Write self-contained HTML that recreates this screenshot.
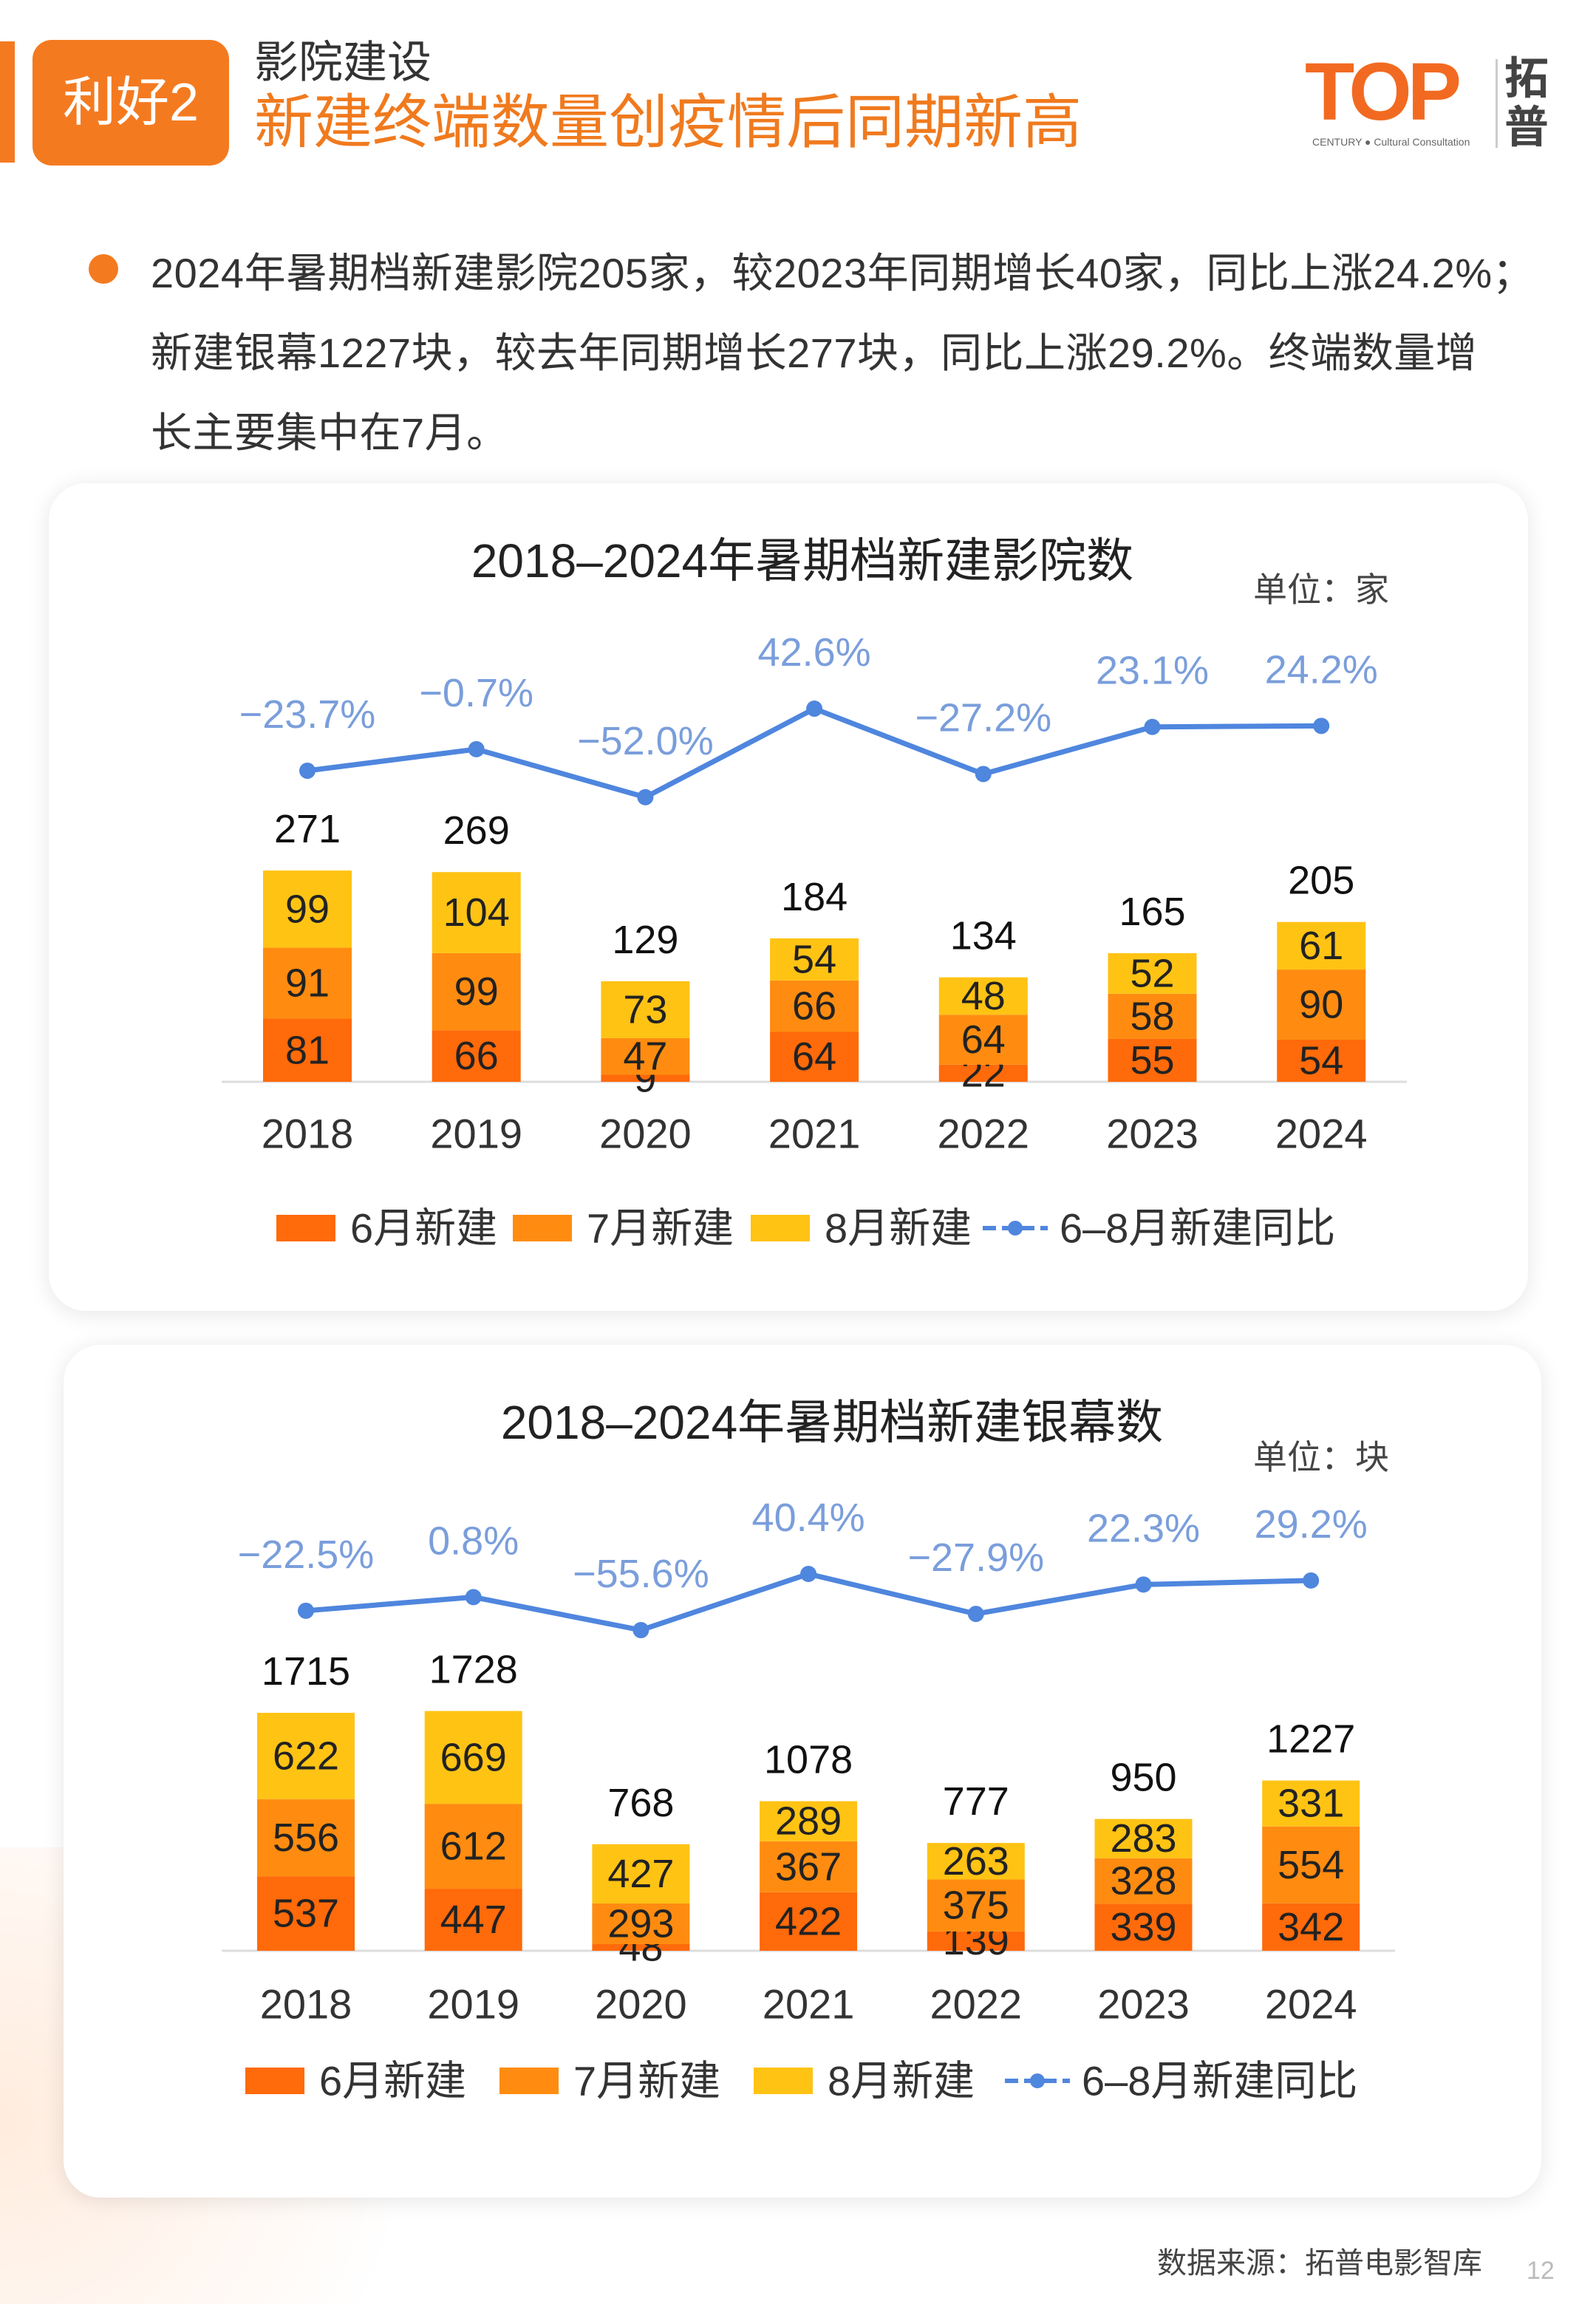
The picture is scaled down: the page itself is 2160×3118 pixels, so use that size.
<!DOCTYPE html>
<html><head><meta charset="utf-8">
<style>
html,body{margin:0;padding:0;background:#fff;}
body{width:2160px;height:3118px;position:relative;overflow:hidden;font-family:"Liberation Sans","Noto Sans CJK SC",sans-serif;}
.abs{position:absolute;}
</style></head>
<body>
<div class="abs" style="left:0;top:2500px;width:700px;height:618px;background:radial-gradient(circle at 0% 60%,rgba(255,200,160,0.35),rgba(255,255,255,0) 70%);"></div>
<div class="abs" style="left:0;top:56px;width:20px;height:164px;background:#F47A20;"></div>
<div class="abs" style="left:44px;top:54px;width:266px;height:170px;border-radius:26px;background:#F47A20;color:#fff;font-size:72px;line-height:170px;text-align:center;">利好2</div>
<div class="abs" style="left:344px;top:50px;font-size:60px;color:#333;line-height:70px;">影院建设</div>
<div class="abs" style="left:344px;top:120px;font-size:80px;color:#F07A1E;line-height:92px;">新建终端数量创疫情后同期新高</div>
<div class="abs" style="left:1766px;top:70px;font-size:110px;font-weight:bold;color:#F26A21;line-height:110px;letter-spacing:-6px;">TOP</div>
<div class="abs" style="left:1776px;top:184px;font-size:14px;color:#666;">CENTURY ● Cultural Consultation</div>
<div class="abs" style="left:2024px;top:80px;width:3px;height:120px;background:#ccc;"></div>
<div class="abs" style="left:2036px;top:74px;font-size:60px;font-weight:bold;color:#444;line-height:66px;width:64px;">拓<br>普</div>

<div class="abs" style="left:120px;top:344px;width:40px;height:40px;border-radius:50%;background:#F47A20;"></div>
<div class="abs" style="left:204px;top:316px;width:1920px;font-size:56px;letter-spacing:0.5px;line-height:108px;color:#333;white-space:nowrap;">2024年暑期档新建影院205家，较2023年同期增长40家，同比上涨24.2%；<br>新建银幕1227块，较去年同期增长277块，同比上涨29.2%。终端数量增<br>长主要集中在7月。</div>

<div class="abs" style="left:66px;top:654px;width:2002px;height:1120px;border-radius:50px;background:#fff;box-shadow:0 4px 30px rgba(0,0,0,0.10);"></div>
<div class="abs" style="left:86px;top:1820px;width:2000px;height:1154px;border-radius:50px;background:#fff;box-shadow:0 4px 30px rgba(0,0,0,0.10);"></div>

<svg id="svg" class="abs" style="left:0;top:0" width="2160" height="3118"></svg>

<div class="abs" style="left:1566px;top:3030px;font-size:40px;color:#444;">数据来源：拓普电影智库</div>
<div class="abs" style="left:2066px;top:3054px;font-size:34px;color:#bbb;">12</div>

<script>
const years = ["2018","2019","2020","2021","2022","2023","2024"];
const cinemaJune = [81,66,9,64,22,55,54];
const cinemaJuly = [91,99,47,66,64,58,90];
const cinemaAug = [99,104,73,54,48,52,61];
const cinemaTotal = [271,269,129,184,134,165,205];
const cinemaYoY = [-23.7,-0.7,-52.0,42.6,-27.2,23.1,24.2];
const screenJune = [537,447,48,422,139,339,342];
const screenJuly = [556,612,293,367,375,328,554];
const screenAug = [622,669,427,289,263,283,331];
const screenTotal = [1715,1728,768,1078,777,950,1227];
const screenYoY = [-22.5,0.8,-55.6,40.4,-27.9,22.3,29.2];

const NS = "http://www.w3.org/2000/svg";
const svg = document.getElementById('svg');
function mk(tag, attrs, text){
  const e = document.createElementNS(NS, tag);
  for (const k in attrs) e.setAttribute(k, attrs[k]);
  if (text !== undefined) e.textContent = text;
  svg.appendChild(e);
  return e;
}
const COLS = ["#FF6A0A","#FF8C10","#FFC314"];
const FONT = '"Liberation Sans","Noto Sans CJK SC",sans-serif';

function drawChart(c){
  const xOf = i => c.x0 + i*c.dx;
  const yBar = v => c.base - v*c.k;
  const yLine = v => c.zero - v*c.lk;
  let t = mk('text',{x:c.titleX,y:c.titleY,'font-size':64,'text-anchor':'middle','dominant-baseline':'middle',fill:'#222','font-family':FONT},c.title);
   
  t = mk('text',{x:1880,y:c.unitY,'font-size':46,'text-anchor':'end','dominant-baseline':'middle',fill:'#444','font-family':FONT},c.unit);
   
  let ax = mk('line',{x1:300,x2:c.axEnd,y1:c.base,y2:c.base,stroke:'#ddd','stroke-width':3});
   
  const series = [c.june,c.july,c.aug];
  years.forEach((yr,i)=>{
    let acc = 0;
    series.forEach((s,j)=>{
      const y1 = yBar(acc), y2 = yBar(acc+s[i]);
      const r = mk('rect',{x:xOf(i)-c.bw/2,y:y2,width:c.bw,height:y1-y2,fill:COLS[j]});
      
      
      const l = mk('text',{x:xOf(i),y:(y1+y2)/2,'font-size':54,'text-anchor':'middle','dominant-baseline':'central',fill:'#222','font-family':FONT},String(s[i]));
      
      
      acc += s[i];
    });
    const tl = mk('text',{x:xOf(i),y:yBar(c.total[i])-56,'font-size':54,'text-anchor':'middle','dominant-baseline':'central',fill:'#111','font-family':FONT},String(c.total[i]));
    
    
    const yl = mk('text',{x:xOf(i),y:c.yearY,'font-size':56,'text-anchor':'middle','dominant-baseline':'central',fill:'#333','font-family':FONT},yr);
    
    
  });
  const pts = c.yoy.map((v,i)=>xOf(i)+','+yLine(v)).join(' ');
  const pl = mk('polyline',{points:pts,fill:'none',stroke:'#4F86DE','stroke-width':7});
   
  c.yoy.forEach((v,i)=>{
    const d = mk('circle',{cx:xOf(i),cy:yLine(v),r:11,fill:'#4F86DE'});
     
    const s = (v<0?'−':'')+Math.abs(v).toFixed(1)+'%';
    const l = mk('text',{x:xOf(i),y:yLine(v)-76,'font-size':54,'text-anchor':'middle','dominant-baseline':'central',fill:'#7A9EDB','font-family':FONT},s);
     
  });
  const names = ["6月新建","7月新建","8月新建"];
  c.leg.forEach((lx,j)=>{
    if (j<3){
      const r = mk('rect',{x:lx,y:c.legY-18,width:80,height:36,fill:COLS[j]});
       
      const t2 = mk('text',{x:lx+100,y:c.legY,'font-size':56,'dominant-baseline':'central',fill:'#333','font-family':FONT},names[j]);
       
    } else {
      const ln = mk('line',{x1:lx,x2:lx+88,y1:c.legY,y2:c.legY,stroke:'#4F86DE','stroke-width':6,'stroke-dasharray':'18 8'});
       
      const dc = mk('circle',{cx:lx+44,cy:c.legY,r:10,fill:'#4F86DE'});
       
      const t2 = mk('text',{x:lx+104,y:c.legY,'font-size':56,'dominant-baseline':'central',fill:'#333','font-family':FONT},"6–8月新建同比");
       
    }
  });
}

drawChart({id:'cinema',title:'2018–2024年暑期档新建影院数',titleX:1086,titleY:764,unit:'单位：家',unitY:802,
  x0:416,dx:228.7,bw:120,base:1464,k:1.055,zero:1013,lk:1.267,yearY:1534,axEnd:1904,legY:1662,leg:[374,694,1016,1330],
  june:cinemaJune,july:cinemaJuly,aug:cinemaAug,total:cinemaTotal,yoy:cinemaYoY});
drawChart({id:'screen',title:'2018–2024年暑期档新建银幕数',titleX:1126,titleY:1930,unit:'单位：块',unitY:1976,
  x0:414,dx:226.7,bw:132,base:2640,k:0.1878,zero:2162,lk:0.792,yearY:2712,axEnd:1888,legY:2816,leg:[332,676,1020,1360],
  june:screenJune,july:screenJuly,aug:screenAug,total:screenTotal,yoy:screenYoY});
</script>
</body></html>
